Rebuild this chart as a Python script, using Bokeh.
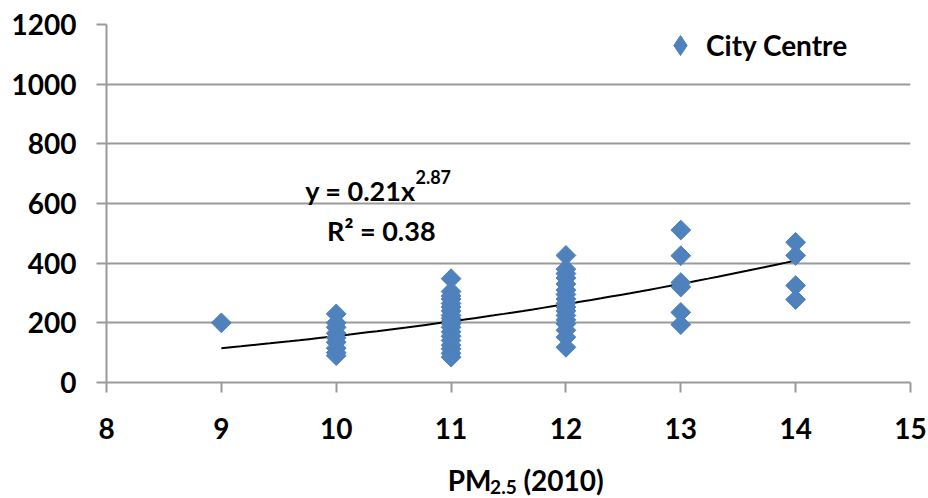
import numpy as np
from bokeh.plotting import figure
from bokeh.layouts import column
from bokeh.models import (ColumnDataSource, FixedTicker, Label, Legend, LegendItem, Range1d)
from bokeh.embed import file_html
from bokeh.resources import INLINE

# ---- data ----
x_10 = [230, 200, 185, 165, 150, 135, 115, 100, 90]
x_11 = [348, 305, 290, 280, 265, 253, 240, 225, 215, 205, 197, 185, 170, 155, 141, 125, 113, 98, 85]
x_12 = [426, 380, 365, 350, 330, 310, 295, 280, 265, 253, 240, 225, 210, 197, 175, 152, 118]
x_13 = [511, 425, 335, 320, 235, 194]
x_14 = [470, 426, 325, 278]
x_9 = [200]

groups = {9: x_9, 10: x_10, 11: x_11, 12: x_12, 13: x_13, 14: x_14}
pm25 = []
values = []
for k, vals in groups.items():
    pm25 += [k] * len(vals)
    values += vals

series_name = "City Centre"
fit_a = 0.21
fit_b = 2.87
fit_r2 = 0.38
fit_x_start, fit_x_end = 9, 14

x_ticks = [8, 9, 10, 11, 12, 13, 14, 15]
y_ticks = [0, 200, 400, 600, 800, 1000, 1200]

FONT = "Lato"
BLUE = "#4F81BD"
GRID = "#9a9a9a"

p = figure(width=928, height=448, output_backend="svg", toolbar_location=None,
           x_range=Range1d(8, 15), y_range=Range1d(0, 1200),
           min_border_left=106, min_border_right=18, min_border_top=24, min_border_bottom=66)
p.outline_line_color = None
p.background_fill_color = "white"
p.border_fill_color = "white"

# axes
for ax in (p.xaxis[0], p.yaxis[0]):
    ax.axis_line_color = GRID
    ax.axis_line_width = 2
    ax.major_tick_line_color = GRID
    ax.major_tick_line_width = 2
    ax.major_tick_out = 10
    ax.major_tick_in = 0
    ax.minor_tick_line_color = None
    ax.major_label_text_font = FONT
    ax.major_label_text_font_style = "bold"
    ax.major_label_text_font_size = "28px"
    ax.major_label_text_color = "black"
p.xaxis.ticker = FixedTicker(ticks=x_ticks)
p.yaxis.ticker = FixedTicker(ticks=y_ticks)
p.xaxis.major_label_standoff = 25
p.yaxis.major_label_standoff = 20

p.xgrid.grid_line_color = None
p.ygrid.ticker = FixedTicker(ticks=y_ticks)
p.ygrid.grid_line_color = GRID
p.ygrid.grid_line_width = 2

# trend line
fx = np.linspace(fit_x_start, fit_x_end, 60)
fy = fit_a * fx ** fit_b
p.line(fx, fy, line_color="black", line_width=2)

# scatter (diamonds drawn as rotated squares)
src = ColumnDataSource(dict(x=pm25, y=values))
p.scatter("x", "y", source=src, marker="square", angle=np.pi / 4, size=14,
          fill_color=BLUE, line_color=BLUE)

# legend swatch renderer: a single undrawable (NaN) point, only used by the legend
swatch_src = ColumnDataSource(dict(x=[np.nan], y=[np.nan]))
swatch = p.scatter("x", "y", source=swatch_src, marker="diamond", size=14,
                   fill_color=BLUE, line_color=BLUE)

legend = Legend(items=[LegendItem(label=series_name, renderers=[swatch])],
                location=(549, 312), glyph_width=50, glyph_height=50,
                label_standoff=1, padding=0, margin=0, spacing=0,
                border_line_color=None, background_fill_alpha=0,
                label_text_font=FONT, label_text_font_style="bold",
                label_text_font_size="28px", label_text_color="black")
p.add_layout(legend)

# equation labels
def lab(fig, x, y, text, size, **kw):
    fig.add_layout(Label(x=x, y=y, text=text, text_font=FONT, text_font_style="bold",
                         text_font_size=size, text_color="black",
                         text_baseline="alphabetic", **kw))

lab(p, 9.73, 645, "y = %.2fx" % fit_a, "27px")
lab(p, 10.69, 690, "%.2f" % fit_b, "18px")
lab(p, 9.92, 511, "R² = %.2f" % fit_r2, "27px")

# x axis title with subscript, in a strip below the chart (frame aligned with p)
t = figure(width=928, height=50, output_backend="svg", toolbar_location=None, title=None,
           x_range=Range1d(8, 15), y_range=Range1d(0, 50),
           min_border_left=106, min_border_right=18, min_border_top=0, min_border_bottom=0)
t.axis.visible = False
t.grid.visible = False
t.outline_line_color = None
t.border_fill_color = "white"
lab(t, 10.97, 19, "PM", "28px")
lab(t, 11.34, 12, "2.5", "19px")
lab(t, 11.63, 19, "(2010)", "28px")

open("out.html", "w").write(file_html(column(p, t, spacing=0), INLINE))
